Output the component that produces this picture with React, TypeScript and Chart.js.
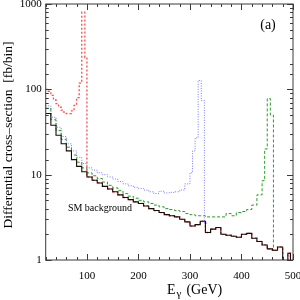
import React, { useEffect, useRef } from 'react';
import { Chart, registerables } from 'chart.js';
Chart.register(...registerables);

const ZERO = 0.5; // empty bin (drawn below the log axis floor)

// SM background histogram: bin left edges (last entry = right edge of last bin)
const bgEdges = [20, 30, 40, 50, 60, 70, 80, 90, 100, 110, 120, 130, 140, 150, 160, 170, 180, 190, 200, 210, 220, 230, 240, 250, 260, 270, 280, 290, 300, 310, 320, 330, 340, 350, 360, 370, 380, 390, 400, 410, 420, 430, 440, 450, 460, 470, 480, 490, 495, 500];
const bgValues = [52, 38, 29, 23, 19, 15, 12.5, 10.8, 9.4, 8.6, 8.0, 7.3, 6.8, 6.3, 5.8, 5.4, 5.1, 4.8, 4.6, 4.3, 4.0, 3.8, 3.6, 3.4, 3.3, 3.2, 3.0, 2.8, 2.5, 2.6, 2.85, 2.1, 2.3, 2.4, 2.0, 1.95, 1.9, 1.85, 2.0, 2.05, 1.8, 1.65, 1.5, 1.35, 1.3, 1.42, ZERO, 1.2, ZERO];

// Signal (red, peak near 90 GeV), below 100 GeV; above it follows the background
const redEdges = [20, 25, 30, 35, 40, 45, 50, 55, 60, 65, 70, 75, 80, 85, 90, 96, 100];
const redValues = [100, 95, 85, 75, 68, 62, 57, 54, 52, 52, 56, 65, 80, 118, 800, 236];

// Signal (blue, peak near 320 GeV)
const blueEdges = [20, 30, 40, 50, 60, 70, 80, 90, 100, 110, 120, 130, 140, 150, 160, 170, 180, 190, 200, 210, 220, 230, 240, 250, 260, 270, 280, 290, 300, 305, 310, 316, 322, 328, 335];
const blueValues = [64, 47, 36, 28, 23, 19, 16, 13.5, 12, 11.3, 10.5, 10, 9.4, 8.9, 8.3, 7.8, 7.4, 7.1, 6.9, 6.6, 6.3, 6.0, 6.4, 6.1, 6.2, 6.3, 6.6, 7.8, 10.5, 19, 27, 127, 74, 2.7];

// Signal (green, peak near 455 GeV)
const greenEdges = [20, 30, 40, 50, 60, 70, 80, 90, 100, 110, 120, 130, 140, 150, 160, 170, 180, 190, 200, 210, 220, 230, 240, 250, 260, 270, 280, 290, 300, 310, 320, 330, 340, 350, 360, 370, 380, 390, 400, 410, 420, 430, 440, 445, 450, 456, 462, 470];
const greenValues = [60, 44, 33, 26, 21, 17, 14, 12, 10.5, 9.7, 9.0, 8.2, 7.5, 7.0, 6.5, 6.0, 5.6, 5.3, 5.0, 4.8, 4.6, 4.4, 4.2, 4.0, 3.9, 3.8, 3.7, 3.5, 3.4, 3.3, 3.3, 3.2, 3.2, 3.2, 3.2, 3.5, 3.3, 3.6, 3.7, 3.9, 4.4, 5.8, 8.5, 20, 78, 50, 1.3];

const yTickLabels = [1, 10, 100, 1000];
const xTickLabels = [100, 200, 300, 400, 500];

const SERIF = '"Liberation Serif", "DejaVu Serif", "Times New Roman", serif';

function hist(edges: number[], values: number[]) {
  return edges.map((e, i) => ({ x: e, y: values[Math.min(i, values.length - 1)] }));
}

const framePlugin = {
  id: 'frame',
  afterDraw(chart: any) {
    const { ctx, chartArea: a, scales } = chart;
    const xs = scales.x;
    const ys = scales.y;
    ctx.save();
    ctx.strokeStyle = '#3a3a3a';
    ctx.lineWidth = 1;
    ctx.strokeRect(a.left, a.top, a.right - a.left, a.bottom - a.top);
    ctx.beginPath();
    xs.ticks.forEach((t: any) => {
      const px = Math.round(xs.getPixelForValue(t.value)) + 0.5;
      const len = t.value % 100 === 0 ? 6 : 3;
      ctx.moveTo(px, a.bottom);
      ctx.lineTo(px, a.bottom - len);
      ctx.moveTo(px, a.top);
      ctx.lineTo(px, a.top + len);
    });
    ys.ticks.forEach((t: any) => {
      const v = t.value;
      const lg = Math.log10(v);
      const major = Math.abs(lg - Math.round(lg)) < 1e-6;
      const py = Math.round(ys.getPixelForValue(v)) + 0.5;
      const len = major ? 6 : 3;
      ctx.moveTo(a.left, py);
      ctx.lineTo(a.left + len, py);
      ctx.moveTo(a.right, py);
      ctx.lineTo(a.right - len, py);
    });
    ctx.stroke();

    ctx.fillStyle = '#000';
    // y title
    ctx.save();
    ctx.translate(8, 135);
    ctx.rotate(-Math.PI / 2);
    ctx.font = `13.5px ${SERIF}`;
    ctx.textAlign = 'center';
    ctx.textBaseline = 'middle';
    ctx.fillText('Differential cross\u2013section  [fb/bin]', 0, 0);
    ctx.restore();

    // x title: E_gamma (GeV)
    ctx.textBaseline = 'alphabetic';
    ctx.textAlign = 'left';
    let cx = 167;
    ctx.font = `14px ${SERIF}`;
    ctx.fillText('E', cx, 294);
    cx += ctx.measureText('E').width + 1;
    ctx.font = `11px ${SERIF}`;
    ctx.fillText('\u03b3', cx, 297);
    cx += ctx.measureText('\u03b3').width + 5;
    ctx.font = `14px ${SERIF}`;
    ctx.fillText('(GeV)', cx, 294);

    // annotations
    ctx.textAlign = 'center';
    ctx.textBaseline = 'middle';
    ctx.font = `14px ${SERIF}`;
    ctx.fillText('(a)', 268, 25);
    ctx.font = `10px ${SERIF}`;
    ctx.fillText('SM background', 100, 208);
    ctx.restore();
  },
};

export default function App() {
  const ref = useRef<HTMLCanvasElement>(null);
  useEffect(() => {
    document.body.style.margin = '0';
    const bg = hist(bgEdges, bgValues);
    const red = hist(redEdges, redValues).concat(bg.filter((p) => p.x >= 100));
    const chart = new Chart(ref.current!, {
      type: 'line',
      data: {
        datasets: [
          { label: 'SM background', data: bg, stepped: true, borderColor: '#1a0a0a', borderWidth: 1.1, pointRadius: 0, fill: false },
          { label: 'green', data: hist(greenEdges, greenValues), stepped: true, borderColor: '#22a022', borderWidth: 1, borderDash: [3, 2], pointRadius: 0, fill: false },
          { label: 'blue', data: hist(blueEdges, blueValues), stepped: true, borderColor: '#7878ff', borderWidth: 1, borderDash: [1, 1.5], pointRadius: 0, fill: false },
          { label: 'red', data: red, stepped: true, borderColor: '#ff4848', borderWidth: 1.3, borderDash: [2, 2], pointRadius: 0, fill: false },
        ],
      },
      options: {
        animation: false,
        responsive: false,
        parsing: false as any,
        normalized: true,
        layout: { padding: { top: 4, right: 7, left: 0, bottom: 0 } },
        plugins: { legend: { display: false }, tooltip: { enabled: false } },
        scales: {
          x: {
            type: 'linear',
            min: 20,
            max: 500,
            grid: { display: false, drawTicks: false },
            border: { display: false },
            ticks: {
              stepSize: 20,
              autoSkip: false,
              maxRotation: 0,
              padding: 10,
              color: '#000',
              font: { family: SERIF, size: 11 },
              callback: (v: any) => (xTickLabels.includes(Number(v)) ? String(v) : ''),
            },
            afterFit: (s: any) => {
              s.height = 40;
              s.paddingLeft = 0;
              s.paddingRight = 0;
            },
          },
          y: {
            type: 'logarithmic',
            min: 1,
            max: 1000,
            grid: { display: false, drawTicks: false },
            border: { display: false },
            ticks: {
              autoSkip: false,
              padding: 4,
              color: '#000',
              font: { family: SERIF, size: 11 },
              callback: (v: any) => (yTickLabels.includes(Number(v)) ? String(v) : ''),
            },
            afterFit: (s: any) => {
              s.width = 45.7;
              s.paddingTop = 0;
              s.paddingBottom = 0;
            },
          },
        },
      },
      plugins: [framePlugin],
    });
    return () => chart.destroy();
  }, []);
  return (
    <div style={{ width: 300, height: 300 }}>
      <canvas ref={ref} width={300} height={300} />
    </div>
  );
}
